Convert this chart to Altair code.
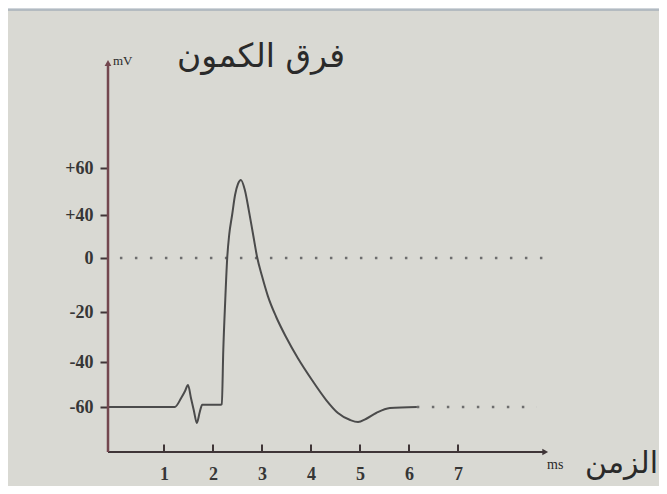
import altair as alt
import pandas as pd

# ---- data ----
time_ms = [-0.14, 1.22, 1.35, 1.43, 1.49, 1.55, 1.61, 1.67, 1.73, 1.78, 2.14, 2.18, 2.21,
           2.25, 2.29, 2.33, 2.39, 2.45, 2.51, 2.57, 2.65, 2.73, 2.82, 2.90, 3.00,
           3.12, 3.29, 3.49, 3.73, 4.02, 4.31, 4.55, 4.80, 4.96, 5.12, 5.33, 5.61, 6.16]
potential_mv = [-60, -60, -56, -52.9, -50.2, -56, -61.5, -66.4, -62, -59, -59, -58.7, -35.2,
                -15.6, 0, 21.4, 40, 48.5, 53.2, 54.9, 50.6, 42.1, 21.4, 0.9, -6.7,
                -14.1, -22, -30, -38.4, -48, -56.9, -62.4, -65.2, -66, -64.8, -62.4, -60.4, -60]
rest_line_t = [6.16, 8.61]
rest_line_v = [-60, -60]
zero_line_t = [0.10, 8.82]
zero_line_v = [0, 0]
x_ticks = [1, 2, 3, 4, 5, 6, 7]
y_ticks = [-60, -40, -20, 0, 40, 60]
y_title = "فرق الكمون"
x_title = "الزمن"
y_unit = "mV"
x_unit = "ms"

X0, XMAX, XARROW = -0.143, 9.143, 8.78
YMIN, YMAX = -78, 105

xs = alt.Scale(domain=[X0, XMAX], nice=False, zero=False)
ys = alt.Scale(domain=[YMIN, -60, -40, -20, 0, 40, 60, YMAX],
               range=[389, 344, 299, 249, 195, 152, 105, 0], nice=False, zero=False)

AX = "#3f3537"
YAX = "#73474f"
CURVE = "#4b4b4b"
DOT = "#6e6e6e"
SERIF = "Liberation Serif"
AR = "DejaVu Sans"

x_axis = alt.Axis(values=x_ticks, domain=False, ticks=False, tickSize=0,
                  labelPadding=13, labelFont=SERIF, labelFontSize=18,
                  labelFontWeight="bold", labelColor="#363636", grid=False, title=None)
y_axis = alt.Axis(values=y_ticks, domain=False, ticks=True, tickSize=8,
                  tickWidth=2, tickColor=AX, tickOpacity=1, labelPadding=7,
                  labelFont=SERIF, labelFontSize=18, labelFontWeight="bold",
                  labelColor="#363636", grid=False, title=None,
                  labelExpr="datum.value > 0 ? '+' + datum.value : '' + datum.value")


def X(field):
    return alt.X(field, scale=xs, axis=x_axis)


def Y(field):
    return alt.Y(field, scale=ys, axis=y_axis)


curve_df = pd.DataFrame({"t": time_ms, "v": potential_mv})
curve = alt.Chart(curve_df).mark_line(color=CURVE, strokeWidth=2, interpolate="monotone").encode(
    x=X("t:Q"), y=Y("v:Q"))

rest_df = pd.DataFrame({"t": rest_line_t, "v": rest_line_v})
zero_df = pd.DataFrame({"t": zero_line_t, "v": zero_line_v})
dotted_rest = alt.Chart(rest_df).mark_line(color=DOT, strokeWidth=2.5, strokeDash=[2.5, 12.5]).encode(
    x=X("t:Q"), y=Y("v:Q"))
dotted_zero = alt.Chart(zero_df).mark_line(color=DOT, strokeWidth=2.5, strokeDash=[2.5, 12.5]).encode(
    x=X("t:Q"), y=Y("v:Q"))

# axis lines with arrows
xaxis_df = pd.DataFrame({"x1": [X0], "x2": [XARROW], "y": [YMIN]})
xaxis = alt.Chart(xaxis_df).mark_rule(color=AX, strokeWidth=2).encode(
    x=X("x1:Q"), x2="x2:Q", y=Y("y:Q"))
yaxis_df = pd.DataFrame({"x": [X0], "y1": [YMIN], "y2": [YMAX]})
yaxis = alt.Chart(yaxis_df).mark_rule(color=YAX, strokeWidth=2.5).encode(
    x=X("x:Q"), y=Y("y1:Q"), y2="y2:Q")
xarrow = alt.Chart(pd.DataFrame({"x": [XARROW], "y": [YMIN]})).mark_point(
    shape="triangle-right", filled=True, color=AX, size=45, opacity=1).encode(
    x=X("x:Q"), y=Y("y:Q"))
yarrow = alt.Chart(pd.DataFrame({"x": [X0], "y": [YMAX]})).mark_point(
    shape="triangle-up", filled=True, color=YAX, size=45, opacity=1).encode(
    x=X("x:Q"), y=Y("y:Q"))

# inward x ticks
xt_df = pd.DataFrame({"t": x_ticks, "y1": [YMIN] * len(x_ticks), "y2": [YMIN + 3] * len(x_ticks)})
xtick_marks = alt.Chart(xt_df).mark_rule(color=AX, strokeWidth=2).encode(
    x=X("t:Q"), y=Y("y1:Q"), y2="y2:Q")


# texts
def label(txt, x, y, size, font, align, color="#2a2a2a", baseline="alphabetic", weight="normal"):
    return alt.Chart(pd.DataFrame({"s": [txt]})).mark_text(
        align=align, baseline=baseline, fontSize=size, font=font, color=color, fontWeight=weight).encode(
        text="s:N", x=alt.value(x), y=alt.value(y))


ytitle = label(y_title, 237, 4, 33, AR, "right")
yunit = label(y_unit, 5, 2, 13, SERIF, "left")
xtitle = label(x_title, 550, 410, 30, AR, "right")
xunit = label(x_unit, 439, 406, 14, SERIF, "left")

# frame strip at top
frame_strip = alt.Chart(pd.DataFrame({"a": [0]})).mark_rect(color="#d0d5da").encode(
    x=alt.value(-100), x2=alt.value(551), y=alt.value(-55), y2=alt.value(-53))
frame_line = alt.Chart(pd.DataFrame({"a": [0]})).mark_rule(color="#a7b1ba", strokeWidth=1.5).encode(
    x=alt.value(-100), x2=alt.value(551), y=alt.value(-53))

chart = alt.layer(
    frame_strip, frame_line, dotted_zero, dotted_rest, curve, xaxis, yaxis, xarrow, yarrow,
    xtick_marks, ytitle, yunit, xtitle, xunit
).properties(
    width=455, height=389,
    autosize=alt.AutoSizeParams(type="none"),
    padding={"left": 100, "top": 55, "right": 96, "bottom": 34},
    background="#d9d9d3",
).configure_view(stroke=None)

chart.save("out.html", embed_options={"renderer": "svg", "actions": False})
